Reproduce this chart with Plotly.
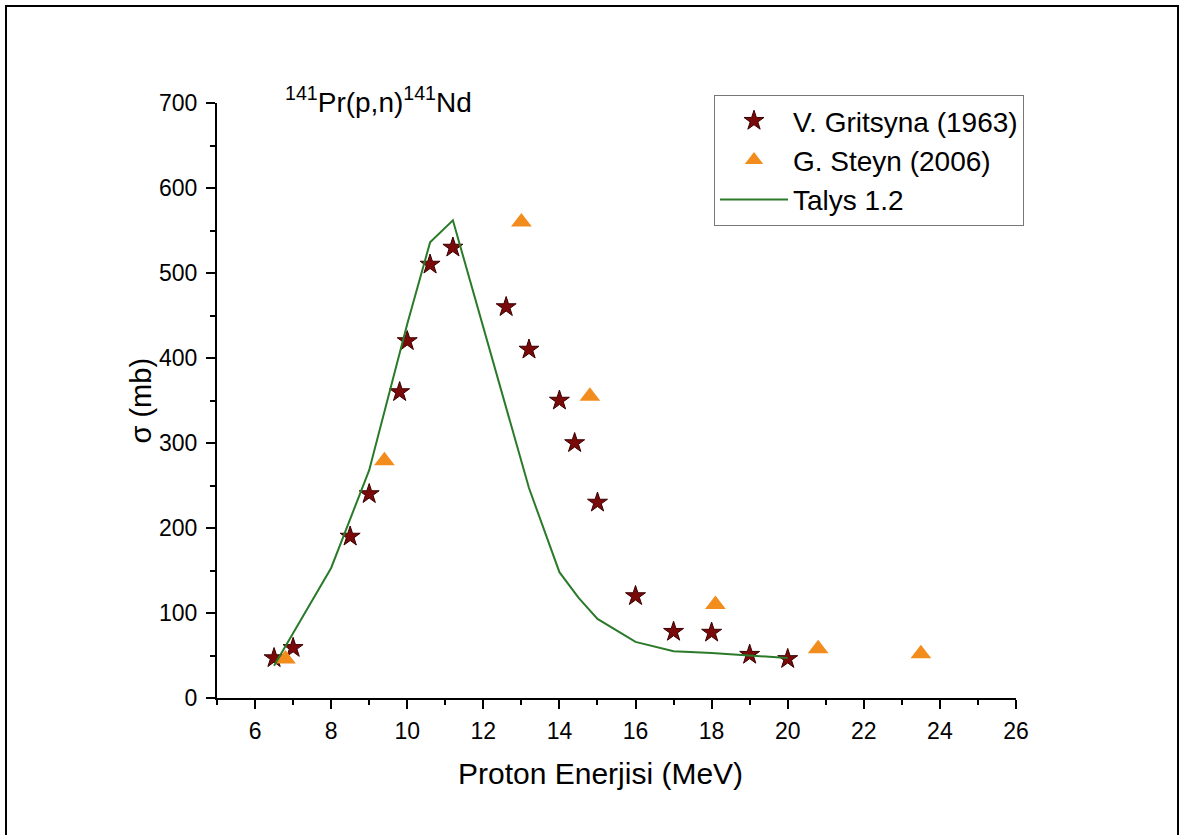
import plotly.graph_objects as go

# Data
gritsyna_x = [6.5, 7.0, 8.5, 9.0, 9.8, 10.0, 10.6, 11.2, 12.6, 13.2, 14.0, 14.4, 15.0, 16.0, 17.0, 18.0, 19.0, 20.0]
gritsyna_y = [47, 59, 190, 240, 360, 420, 510, 530, 460, 410, 350, 300, 230, 120, 78, 77, 51, 46]

steyn_x = [6.8, 9.4, 13.0, 14.8, 18.1, 20.8, 23.5]
steyn_y = [46, 279, 560, 355, 110, 58, 52]

talys_x = [6.5, 8.0, 9.0, 10.0, 10.6, 10.9, 11.2, 13.2, 14.0, 14.5, 15.0, 16.0, 17.0, 18.0, 19.0, 20.0]
talys_y = [38, 153, 268, 440, 536, 549, 562, 247, 148, 118, 93, 66, 55, 53, 50, 47]

FONT = "Liberation Sans, Arial, sans-serif"

fig = go.Figure()
fig.add_trace(go.Scatter(
    x=gritsyna_x, y=gritsyna_y, mode="markers", name="V. Gritsyna (1963)",
    marker=dict(symbol="star", size=15, color="#7a0a0a", line=dict(color="#3a0000", width=1)),
))
fig.add_trace(go.Scatter(
    x=steyn_x, y=steyn_y, mode="markers", name="G. Steyn (2006)",
    marker=dict(symbol="triangle-up", size=18, color="#f28c1c", line=dict(width=0)),
))
fig.add_trace(go.Scatter(
    x=talys_x, y=talys_y, mode="lines", name="Talys 1.2",
    line=dict(color="#2a7a2a", width=2),
))

axis_common = dict(
    showgrid=False, zeroline=False, showline=True, linecolor="black", linewidth=2,
    ticks="outside", ticklen=9, tickwidth=2, tickcolor="black",
    tickfont=dict(family=FONT, size=23, color="black"),
    mirror=False,
)

fig.update_xaxes(range=[5, 26], tick0=0, dtick=2, ticklabelstandoff=2,
                 minor=dict(ticks="outside", ticklen=5, tickwidth=2, tickcolor="black", dtick=1, tick0=0),
                 **axis_common)
fig.update_yaxes(range=[0, 700], tick0=0, dtick=100, ticklabelstandoff=4,
                 minor=dict(ticks="outside", ticklen=5, tickwidth=2, tickcolor="black", dtick=50, tick0=0),
                 **axis_common)

fig.update_layout(
    width=1180, height=835,
    margin=dict(l=217, r=164, t=103, b=137),
    paper_bgcolor="white", plot_bgcolor="white",
    showlegend=True,
    legend=dict(
        x=(714 - 217) / 799, y=(698 - 95) / 595, xanchor="left", yanchor="top",
        bordercolor="#777777", borderwidth=1, bgcolor="white",
        font=dict(family=FONT, size=28, color="black"),
        itemwidth=68,
        tracegroupgap=0,
    ),
    annotations=[
        dict(text="<sup>141</sup>Pr(p,n)<sup>141</sup>Nd", x=(378 - 217) / 799, y=(698 - 100) / 595,
             xref="paper", yref="paper",
             xanchor="center", yanchor="middle", showarrow=False,
             font=dict(family=FONT, size=28, color="black")),
        dict(text="Proton Enerjisi (MeV)", x=(600 - 217) / 799, y=(698 - 773) / 595, xref="paper", yref="paper",
             xanchor="center", yanchor="middle", showarrow=False,
             font=dict(family=FONT, size=30, color="black")),
        dict(text="σ (mb)", x=(140 - 217) / 799, y=0.5, xref="paper", yref="paper",
             xanchor="center", yanchor="middle", showarrow=False, textangle=-90,
             font=dict(family=FONT, size=29, color="black")),
    ],
    shapes=[
        dict(type="rect", xref="paper", yref="paper",
             x0=(6 - 217) / 799, x1=(1178 - 217) / 799,
             y0=(698 - 850) / 595, y1=(698 - 6) / 595,
             line=dict(color="black", width=2), fillcolor="rgba(0,0,0,0)", layer="below"),
    ],
)

fig.write_html("out.html")
